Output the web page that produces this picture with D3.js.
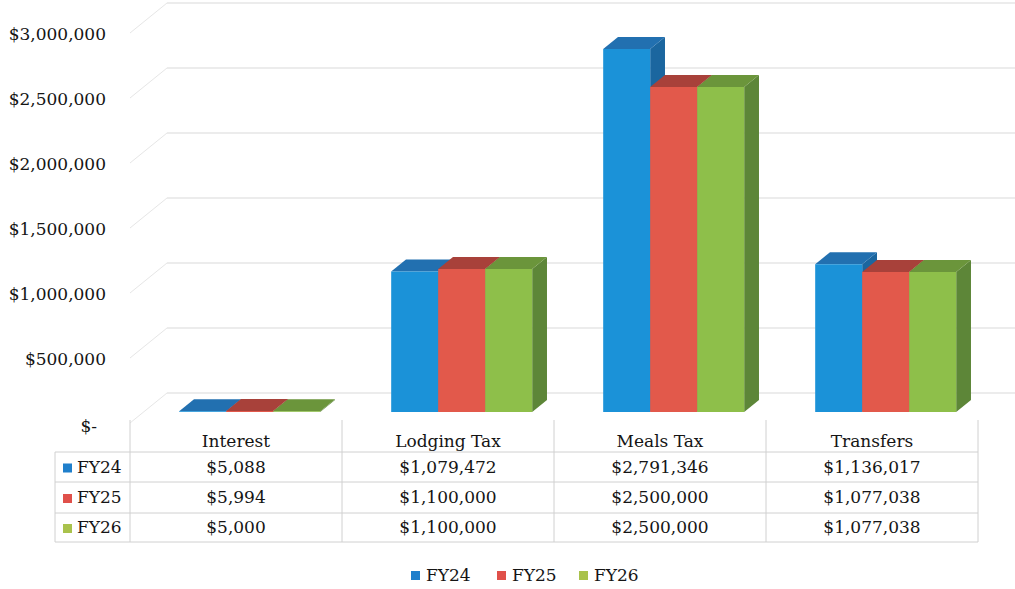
<!DOCTYPE html>
<html>
<head>
<meta charset="utf-8">
<script src="https://cdn.jsdelivr.net/npm/d3@7"></script>
<style>
  html, body { margin: 0; padding: 0; background: #fff; }
  svg { display: block; }
  text { font-family: "DejaVu Serif", serif; fill: #151515; }
</style>
</head>
<body>
<svg id="chart" width="1015" height="589"></svg>
<script>
// Revenue sources by fiscal year
const categories = ["Interest", "Lodging Tax", "Meals Tax", "Transfers"];
const series = ["FY24", "FY25", "FY26"];
const fy24 = [5088, 1079472, 2791346, 1136017];
const fy25 = [5994, 1100000, 2500000, 1077038];
const fy26 = [5000, 1100000, 2500000, 1077038];
const yTicks = [0, 500000, 1000000, 1500000, 2000000, 2500000, 3000000];
const values = [fy24, fy25, fy26];

const faceColors = [
  { front: "#1b92d8", top: "#2270b0", side: "#1b669f" },
  { front: "#e2594b", top: "#a8413a", side: "#9e3a32" },
  { front: "#8ebf4a", top: "#6b953b", side: "#5d8638" }
];
const keyColors = ["#1f7fcb", "#e0504a", "#a9c24c"];
const FS = 17;

const svg = d3.select("#chart");

// front plane of the 3D plot
const x = d3.scaleBand().domain(categories).range([130, 978]).padding(0);
const y = d3.scaleLinear().domain([0, 3000000]).range([423, 33]);
// full depth offset (front -> back wall)
const DX = 37, DY = -30;
const proj = (px, py, z) => [px + DX * z, py + DY * z];

const money = d3.format("$,");
const axisLabel = v => v === 0 ? "$-" : money(v);

// walls: back gridlines and left-wall diagonals
const grid = svg.append("g").attr("stroke-width", 1).attr("fill", "none");
yTicks.forEach(v => {
  const [bx, by] = proj(x.range()[0], y(v), 1);
  const [ex] = proj(x.range()[1], y(v), 1);
  grid.append("line").attr("x1", bx).attr("y1", by).attr("x2", ex).attr("y2", by).attr("stroke", "#d9d9d9");
  grid.append("line").attr("x1", x.range()[0]).attr("y1", y(v)).attr("x2", bx).attr("y2", by).attr("stroke", "#e6e6e6");
});

// value axis labels
svg.append("g").selectAll("text").data(yTicks).join("text")
  .attr("x", d => d === 0 ? 97 : 106)
  .attr("y", d => y(d) + (d === 0 ? 4 : 2))
  .attr("text-anchor", "end")
  .attr("dominant-baseline", "middle")
  .attr("font-size", FS)
  .text(axisLabel);

// bars: three contiguous bars per category, placed mid-depth
const barW = 47;
const z0 = 0.37, z1 = 0.77;
const bars = svg.append("g");
categories.forEach((c, ci) => {
  const cx = x(c) + x.bandwidth() / 2;
  series.forEach((s, si) => {
    const v = values[si][ci];
    const xl = cx - barW * 1.5 + si * barW;
    const xr = xl + barW;
    const yt = y(v), yb = y(0);
    const f = p => p.join(",");
    const a = proj(xl, yt, z0), b = proj(xr, yt, z0), cB = proj(xr, yb, z0), d = proj(xl, yb, z0);
    const ta = proj(xl, yt, z1), tb = proj(xr, yt, z1), bb = proj(xr, yb, z1);
    const col = faceColors[si];
    bars.append("polygon").attr("points", [b, tb, bb, cB].map(f).join(" ")).attr("fill", col.side);
    bars.append("polygon").attr("points", [a, ta, tb, b].map(f).join(" ")).attr("fill", col.top);
    bars.append("polygon").attr("points", [a, b, cB, d].map(f).join(" ")).attr("fill", col.front);
  });
});

// data table
const tbl = svg.append("g");
const rowTop = 420, rowH = [452, 482, 513, 542];
const lineCol = "#d0d0d0";
const colEdges = categories.map(c => x(c)).concat([x.range()[1]]);
colEdges.forEach(cx => {
  tbl.append("line").attr("x1", cx).attr("x2", cx).attr("y1", rowTop).attr("y2", rowH[3])
    .attr("stroke", lineCol);
});
tbl.append("line").attr("x1", 55).attr("x2", 55).attr("y1", rowH[0]).attr("y2", rowH[3]).attr("stroke", lineCol);
rowH.forEach(ry => {
  tbl.append("line").attr("x1", 55).attr("x2", x.range()[1]).attr("y1", ry).attr("y2", ry).attr("stroke", lineCol);
});
tbl.selectAll("text.head").data(categories).join("text")
  .attr("class", "head")
  .attr("x", d => x(d) + x.bandwidth() / 2)
  .attr("y", 442)
  .attr("text-anchor", "middle").attr("dominant-baseline", "middle")
  .attr("font-size", FS)
  .text(d => d);
series.forEach((s, si) => {
  const cy = (rowH[si] + rowH[si + 1]) / 2 + 1;
  tbl.append("rect").attr("x", 63).attr("y", cy - 4.5).attr("width", 9).attr("height", 9).attr("fill", keyColors[si]);
  tbl.append("text").attr("x", 77).attr("y", cy).attr("dominant-baseline", "middle")
    .attr("font-size", FS).text(s);
  categories.forEach((c, ci) => {
    tbl.append("text").attr("x", x(c) + x.bandwidth() / 2).attr("y", cy)
      .attr("text-anchor", "middle").attr("dominant-baseline", "middle")
      .attr("font-size", FS).text(money(values[si][ci]));
  });
});

// legend
const legX = [411, 497, 579];
const leg = svg.append("g");
series.forEach((s, si) => {
  leg.append("rect").attr("x", legX[si]).attr("y", 571).attr("width", 9).attr("height", 9).attr("fill", keyColors[si]);
  leg.append("text").attr("x", legX[si] + 15).attr("y", 576).attr("dominant-baseline", "middle")
    .attr("font-size", FS).text(s);
});
</script>
</body>
</html>
